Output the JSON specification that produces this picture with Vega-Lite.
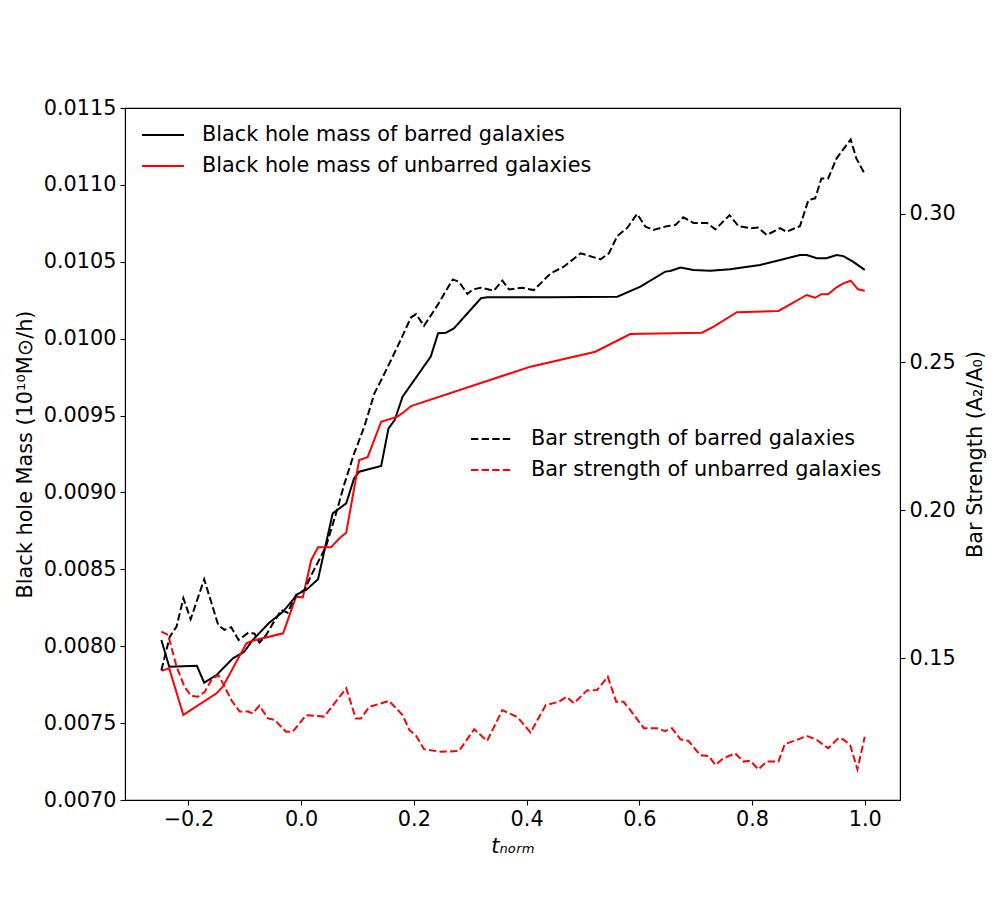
{
  "$schema": "https://vega.github.io/schema/vega-lite/v6.json",
  "width": 775,
  "height": 692,
  "autosize": {"type": "none"},
  "padding": {"left": 125, "top": 108, "right": 100, "bottom": 100},
  "background": "white",
  "config": {
    "font": "DejaVu Sans",
    "view": {"stroke": "black", "strokeWidth": 1.1},
    "axis": {
      "grid": false,
      "domainColor": "black",
      "domainWidth": 1.1,
      "tickColor": "black",
      "tickWidth": 1.1,
      "tickSize": 5,
      "labelColor": "black",
      "labelFontSize": 20.8,
      "labelFont": "DejaVu Sans",
      "labelPadding": 4,
      "titleColor": "black",
      "titleFontSize": 20.8,
      "titleFont": "DejaVu Sans",
      "titleFontWeight": "normal"
    },
    "legend": {
      "labelFontSize": 20.8,
      "labelFont": "DejaVu Sans",
      "labelColor": "black",
      "padding": 0,
      "rowPadding": 9,
      "symbolType": "M-2,0L2,0",
      "symbolSize": 441,
      "symbolStrokeWidth": 2,
      "labelOffset": 27.5,
      "labelLimit": 600
    }
  },
  "datasets": {
    "bh": [
      {"t": -0.248, "mass": 0.008040, "label": "Black hole mass of barred galaxies"},
      {"t": -0.234, "mass": 0.007867, "label": "Black hole mass of barred galaxies"},
      {"t": -0.185, "mass": 0.007873, "label": "Black hole mass of barred galaxies"},
      {"t": -0.172, "mass": 0.007763, "label": "Black hole mass of barred galaxies"},
      {"t": -0.150, "mass": 0.007813, "label": "Black hole mass of barred galaxies"},
      {"t": -0.121, "mass": 0.007921, "label": "Black hole mass of barred galaxies"},
      {"t": -0.101, "mass": 0.007964, "label": "Black hole mass of barred galaxies"},
      {"t": -0.086, "mass": 0.008040, "label": "Black hole mass of barred galaxies"},
      {"t": -0.057, "mass": 0.008151, "label": "Black hole mass of barred galaxies"},
      {"t": -0.032, "mass": 0.008225, "label": "Black hole mass of barred galaxies"},
      {"t": -0.006, "mass": 0.008340, "label": "Black hole mass of barred galaxies"},
      {"t": 0.009, "mass": 0.008366, "label": "Black hole mass of barred galaxies"},
      {"t": 0.030, "mass": 0.008435, "label": "Black hole mass of barred galaxies"},
      {"t": 0.056, "mass": 0.008864, "label": "Black hole mass of barred galaxies"},
      {"t": 0.080, "mass": 0.008929, "label": "Black hole mass of barred galaxies"},
      {"t": 0.094, "mass": 0.009092, "label": "Black hole mass of barred galaxies"},
      {"t": 0.103, "mass": 0.009135, "label": "Black hole mass of barred galaxies"},
      {"t": 0.142, "mass": 0.009172, "label": "Black hole mass of barred galaxies"},
      {"t": 0.155, "mass": 0.009417, "label": "Black hole mass of barred galaxies"},
      {"t": 0.166, "mass": 0.009471, "label": "Black hole mass of barred galaxies"},
      {"t": 0.180, "mass": 0.009623, "label": "Black hole mass of barred galaxies"},
      {"t": 0.230, "mass": 0.009883, "label": "Black hole mass of barred galaxies"},
      {"t": 0.243, "mass": 0.010035, "label": "Black hole mass of barred galaxies"},
      {"t": 0.257, "mass": 0.010039, "label": "Black hole mass of barred galaxies"},
      {"t": 0.271, "mass": 0.010067, "label": "Black hole mass of barred galaxies"},
      {"t": 0.319, "mass": 0.010263, "label": "Black hole mass of barred galaxies"},
      {"t": 0.330, "mass": 0.010269, "label": "Black hole mass of barred galaxies"},
      {"t": 0.443, "mass": 0.010269, "label": "Black hole mass of barred galaxies"},
      {"t": 0.561, "mass": 0.010273, "label": "Black hole mass of barred galaxies"},
      {"t": 0.602, "mass": 0.010338, "label": "Black hole mass of barred galaxies"},
      {"t": 0.646, "mass": 0.010436, "label": "Black hole mass of barred galaxies"},
      {"t": 0.655, "mass": 0.010440, "label": "Black hole mass of barred galaxies"},
      {"t": 0.673, "mass": 0.010462, "label": "Black hole mass of barred galaxies"},
      {"t": 0.696, "mass": 0.010447, "label": "Black hole mass of barred galaxies"},
      {"t": 0.726, "mass": 0.010442, "label": "Black hole mass of barred galaxies"},
      {"t": 0.761, "mass": 0.010451, "label": "Black hole mass of barred galaxies"},
      {"t": 0.814, "mass": 0.010479, "label": "Black hole mass of barred galaxies"},
      {"t": 0.850, "mass": 0.010512, "label": "Black hole mass of barred galaxies"},
      {"t": 0.885, "mass": 0.010544, "label": "Black hole mass of barred galaxies"},
      {"t": 0.897, "mass": 0.010544, "label": "Black hole mass of barred galaxies"},
      {"t": 0.915, "mass": 0.010523, "label": "Black hole mass of barred galaxies"},
      {"t": 0.932, "mass": 0.010523, "label": "Black hole mass of barred galaxies"},
      {"t": 0.950, "mass": 0.010544, "label": "Black hole mass of barred galaxies"},
      {"t": 0.962, "mass": 0.010537, "label": "Black hole mass of barred galaxies"},
      {"t": 0.979, "mass": 0.010501, "label": "Black hole mass of barred galaxies"},
      {"t": 1.000, "mass": 0.010447, "label": "Black hole mass of barred galaxies"},
      {"t": -0.248, "mass": 0.007841, "label": "Black hole mass of unbarred galaxies"},
      {"t": -0.234, "mass": 0.007856, "label": "Black hole mass of unbarred galaxies"},
      {"t": -0.209, "mass": 0.007553, "label": "Black hole mass of unbarred galaxies"},
      {"t": -0.150, "mass": 0.007694, "label": "Black hole mass of unbarred galaxies"},
      {"t": -0.139, "mass": 0.007737, "label": "Black hole mass of unbarred galaxies"},
      {"t": -0.097, "mass": 0.008019, "label": "Black hole mass of unbarred galaxies"},
      {"t": -0.086, "mass": 0.008036, "label": "Black hole mass of unbarred galaxies"},
      {"t": -0.032, "mass": 0.008084, "label": "Black hole mass of unbarred galaxies"},
      {"t": -0.009, "mass": 0.008322, "label": "Black hole mass of unbarred galaxies"},
      {"t": 0.003, "mass": 0.008318, "label": "Black hole mass of unbarred galaxies"},
      {"t": 0.018, "mass": 0.008561, "label": "Black hole mass of unbarred galaxies"},
      {"t": 0.030, "mass": 0.008643, "label": "Black hole mass of unbarred galaxies"},
      {"t": 0.053, "mass": 0.008643, "label": "Black hole mass of unbarred galaxies"},
      {"t": 0.068, "mass": 0.008702, "label": "Black hole mass of unbarred galaxies"},
      {"t": 0.080, "mass": 0.008738, "label": "Black hole mass of unbarred galaxies"},
      {"t": 0.103, "mass": 0.009211, "label": "Black hole mass of unbarred galaxies"},
      {"t": 0.118, "mass": 0.009229, "label": "Black hole mass of unbarred galaxies"},
      {"t": 0.142, "mass": 0.009460, "label": "Black hole mass of unbarred galaxies"},
      {"t": 0.171, "mass": 0.009493, "label": "Black hole mass of unbarred galaxies"},
      {"t": 0.183, "mass": 0.009525, "label": "Black hole mass of unbarred galaxies"},
      {"t": 0.195, "mass": 0.009562, "label": "Black hole mass of unbarred galaxies"},
      {"t": 0.407, "mass": 0.009818, "label": "Black hole mass of unbarred galaxies"},
      {"t": 0.522, "mass": 0.009915, "label": "Black hole mass of unbarred galaxies"},
      {"t": 0.584, "mass": 0.010030, "label": "Black hole mass of unbarred galaxies"},
      {"t": 0.711, "mass": 0.010039, "label": "Black hole mass of unbarred galaxies"},
      {"t": 0.732, "mass": 0.010078, "label": "Black hole mass of unbarred galaxies"},
      {"t": 0.773, "mass": 0.010172, "label": "Black hole mass of unbarred galaxies"},
      {"t": 0.847, "mass": 0.010180, "label": "Black hole mass of unbarred galaxies"},
      {"t": 0.897, "mass": 0.010284, "label": "Black hole mass of unbarred galaxies"},
      {"t": 0.912, "mass": 0.010266, "label": "Black hole mass of unbarred galaxies"},
      {"t": 0.923, "mass": 0.010289, "label": "Black hole mass of unbarred galaxies"},
      {"t": 0.935, "mass": 0.010289, "label": "Black hole mass of unbarred galaxies"},
      {"t": 0.950, "mass": 0.010334, "label": "Black hole mass of unbarred galaxies"},
      {"t": 0.962, "mass": 0.010360, "label": "Black hole mass of unbarred galaxies"},
      {"t": 0.975, "mass": 0.010377, "label": "Black hole mass of unbarred galaxies"},
      {"t": 0.988, "mass": 0.010321, "label": "Black hole mass of unbarred galaxies"},
      {"t": 1.000, "mass": 0.010312, "label": "Black hole mass of unbarred galaxies"}
    ],
    "bar": [
      {"t": -0.248, "a2": 0.1459, "label": "Bar strength of barred galaxies"},
      {"t": -0.233, "a2": 0.1572, "label": "Bar strength of barred galaxies"},
      {"t": -0.221, "a2": 0.1606, "label": "Bar strength of barred galaxies"},
      {"t": -0.209, "a2": 0.1702, "label": "Bar strength of barred galaxies"},
      {"t": -0.196, "a2": 0.1631, "label": "Bar strength of barred galaxies"},
      {"t": -0.172, "a2": 0.1766, "label": "Bar strength of barred galaxies"},
      {"t": -0.147, "a2": 0.1611, "label": "Bar strength of barred galaxies"},
      {"t": -0.136, "a2": 0.1595, "label": "Bar strength of barred galaxies"},
      {"t": -0.124, "a2": 0.1604, "label": "Bar strength of barred galaxies"},
      {"t": -0.111, "a2": 0.1561, "label": "Bar strength of barred galaxies"},
      {"t": -0.094, "a2": 0.1585, "label": "Bar strength of barred galaxies"},
      {"t": -0.083, "a2": 0.1583, "label": "Bar strength of barred galaxies"},
      {"t": -0.074, "a2": 0.1552, "label": "Bar strength of barred galaxies"},
      {"t": -0.062, "a2": 0.1578, "label": "Bar strength of barred galaxies"},
      {"t": -0.050, "a2": 0.1617, "label": "Bar strength of barred galaxies"},
      {"t": -0.035, "a2": 0.1662, "label": "Bar strength of barred galaxies"},
      {"t": -0.024, "a2": 0.1653, "label": "Bar strength of barred galaxies"},
      {"t": -0.009, "a2": 0.1713, "label": "Bar strength of barred galaxies"},
      {"t": 0.006, "a2": 0.1730, "label": "Bar strength of barred galaxies"},
      {"t": 0.018, "a2": 0.1780, "label": "Bar strength of barred galaxies"},
      {"t": 0.044, "a2": 0.1876, "label": "Bar strength of barred galaxies"},
      {"t": 0.062, "a2": 0.1989, "label": "Bar strength of barred galaxies"},
      {"t": 0.077, "a2": 0.2090, "label": "Bar strength of barred galaxies"},
      {"t": 0.094, "a2": 0.2191, "label": "Bar strength of barred galaxies"},
      {"t": 0.112, "a2": 0.2281, "label": "Bar strength of barred galaxies"},
      {"t": 0.130, "a2": 0.2394, "label": "Bar strength of barred galaxies"},
      {"t": 0.145, "a2": 0.2450, "label": "Bar strength of barred galaxies"},
      {"t": 0.171, "a2": 0.2552, "label": "Bar strength of barred galaxies"},
      {"t": 0.195, "a2": 0.2651, "label": "Bar strength of barred galaxies"},
      {"t": 0.204, "a2": 0.2662, "label": "Bar strength of barred galaxies"},
      {"t": 0.218, "a2": 0.2622, "label": "Bar strength of barred galaxies"},
      {"t": 0.242, "a2": 0.2692, "label": "Bar strength of barred galaxies"},
      {"t": 0.269, "a2": 0.2779, "label": "Bar strength of barred galaxies"},
      {"t": 0.280, "a2": 0.2771, "label": "Bar strength of barred galaxies"},
      {"t": 0.295, "a2": 0.2730, "label": "Bar strength of barred galaxies"},
      {"t": 0.304, "a2": 0.2745, "label": "Bar strength of barred galaxies"},
      {"t": 0.319, "a2": 0.2751, "label": "Bar strength of barred galaxies"},
      {"t": 0.342, "a2": 0.2741, "label": "Bar strength of barred galaxies"},
      {"t": 0.357, "a2": 0.2775, "label": "Bar strength of barred galaxies"},
      {"t": 0.369, "a2": 0.2745, "label": "Bar strength of barred galaxies"},
      {"t": 0.392, "a2": 0.2751, "label": "Bar strength of barred galaxies"},
      {"t": 0.413, "a2": 0.2743, "label": "Bar strength of barred galaxies"},
      {"t": 0.443, "a2": 0.2800, "label": "Bar strength of barred galaxies"},
      {"t": 0.466, "a2": 0.2822, "label": "Bar strength of barred galaxies"},
      {"t": 0.496, "a2": 0.2867, "label": "Bar strength of barred galaxies"},
      {"t": 0.531, "a2": 0.2847, "label": "Bar strength of barred galaxies"},
      {"t": 0.546, "a2": 0.2867, "label": "Bar strength of barred galaxies"},
      {"t": 0.561, "a2": 0.2926, "label": "Bar strength of barred galaxies"},
      {"t": 0.578, "a2": 0.2952, "label": "Bar strength of barred galaxies"},
      {"t": 0.596, "a2": 0.3000, "label": "Bar strength of barred galaxies"},
      {"t": 0.611, "a2": 0.2957, "label": "Bar strength of barred galaxies"},
      {"t": 0.625, "a2": 0.2946, "label": "Bar strength of barred galaxies"},
      {"t": 0.649, "a2": 0.2959, "label": "Bar strength of barred galaxies"},
      {"t": 0.664, "a2": 0.2963, "label": "Bar strength of barred galaxies"},
      {"t": 0.678, "a2": 0.2989, "label": "Bar strength of barred galaxies"},
      {"t": 0.696, "a2": 0.2970, "label": "Bar strength of barred galaxies"},
      {"t": 0.720, "a2": 0.2970, "label": "Bar strength of barred galaxies"},
      {"t": 0.735, "a2": 0.2948, "label": "Bar strength of barred galaxies"},
      {"t": 0.760, "a2": 0.2996, "label": "Bar strength of barred galaxies"},
      {"t": 0.776, "a2": 0.2959, "label": "Bar strength of barred galaxies"},
      {"t": 0.797, "a2": 0.2952, "label": "Bar strength of barred galaxies"},
      {"t": 0.811, "a2": 0.2954, "label": "Bar strength of barred galaxies"},
      {"t": 0.826, "a2": 0.2929, "label": "Bar strength of barred galaxies"},
      {"t": 0.850, "a2": 0.2952, "label": "Bar strength of barred galaxies"},
      {"t": 0.861, "a2": 0.2940, "label": "Bar strength of barred galaxies"},
      {"t": 0.885, "a2": 0.2959, "label": "Bar strength of barred galaxies"},
      {"t": 0.900, "a2": 0.3047, "label": "Bar strength of barred galaxies"},
      {"t": 0.912, "a2": 0.3053, "label": "Bar strength of barred galaxies"},
      {"t": 0.923, "a2": 0.3120, "label": "Bar strength of barred galaxies"},
      {"t": 0.935, "a2": 0.3120, "label": "Bar strength of barred galaxies"},
      {"t": 0.950, "a2": 0.3188, "label": "Bar strength of barred galaxies"},
      {"t": 0.975, "a2": 0.3252, "label": "Bar strength of barred galaxies"},
      {"t": 0.985, "a2": 0.3188, "label": "Bar strength of barred galaxies"},
      {"t": 1.000, "a2": 0.3135, "label": "Bar strength of barred galaxies"},
      {"t": -0.248, "a2": 0.1589, "label": "Bar strength of unbarred galaxies"},
      {"t": -0.236, "a2": 0.1578, "label": "Bar strength of unbarred galaxies"},
      {"t": -0.221, "a2": 0.1471, "label": "Bar strength of unbarred galaxies"},
      {"t": -0.207, "a2": 0.1403, "label": "Bar strength of unbarred galaxies"},
      {"t": -0.195, "a2": 0.1372, "label": "Bar strength of unbarred galaxies"},
      {"t": -0.183, "a2": 0.1369, "label": "Bar strength of unbarred galaxies"},
      {"t": -0.171, "a2": 0.1386, "label": "Bar strength of unbarred galaxies"},
      {"t": -0.159, "a2": 0.1426, "label": "Bar strength of unbarred galaxies"},
      {"t": -0.147, "a2": 0.1443, "label": "Bar strength of unbarred galaxies"},
      {"t": -0.139, "a2": 0.1415, "label": "Bar strength of unbarred galaxies"},
      {"t": -0.124, "a2": 0.1358, "label": "Bar strength of unbarred galaxies"},
      {"t": -0.109, "a2": 0.1319, "label": "Bar strength of unbarred galaxies"},
      {"t": -0.094, "a2": 0.1319, "label": "Bar strength of unbarred galaxies"},
      {"t": -0.086, "a2": 0.1313, "label": "Bar strength of unbarred galaxies"},
      {"t": -0.074, "a2": 0.1339, "label": "Bar strength of unbarred galaxies"},
      {"t": -0.059, "a2": 0.1296, "label": "Bar strength of unbarred galaxies"},
      {"t": -0.047, "a2": 0.1291, "label": "Bar strength of unbarred galaxies"},
      {"t": -0.027, "a2": 0.1251, "label": "Bar strength of unbarred galaxies"},
      {"t": -0.015, "a2": 0.1251, "label": "Bar strength of unbarred galaxies"},
      {"t": 0.009, "a2": 0.1307, "label": "Bar strength of unbarred galaxies"},
      {"t": 0.041, "a2": 0.1302, "label": "Bar strength of unbarred galaxies"},
      {"t": 0.080, "a2": 0.1398, "label": "Bar strength of unbarred galaxies"},
      {"t": 0.097, "a2": 0.1296, "label": "Bar strength of unbarred galaxies"},
      {"t": 0.106, "a2": 0.1296, "label": "Bar strength of unbarred galaxies"},
      {"t": 0.121, "a2": 0.1335, "label": "Bar strength of unbarred galaxies"},
      {"t": 0.156, "a2": 0.1355, "label": "Bar strength of unbarred galaxies"},
      {"t": 0.180, "a2": 0.1307, "label": "Bar strength of unbarred galaxies"},
      {"t": 0.192, "a2": 0.1257, "label": "Bar strength of unbarred galaxies"},
      {"t": 0.204, "a2": 0.1237, "label": "Bar strength of unbarred galaxies"},
      {"t": 0.218, "a2": 0.1192, "label": "Bar strength of unbarred galaxies"},
      {"t": 0.248, "a2": 0.1183, "label": "Bar strength of unbarred galaxies"},
      {"t": 0.280, "a2": 0.1186, "label": "Bar strength of unbarred galaxies"},
      {"t": 0.307, "a2": 0.1259, "label": "Bar strength of unbarred galaxies"},
      {"t": 0.330, "a2": 0.1220, "label": "Bar strength of unbarred galaxies"},
      {"t": 0.357, "a2": 0.1324, "label": "Bar strength of unbarred galaxies"},
      {"t": 0.384, "a2": 0.1300, "label": "Bar strength of unbarred galaxies"},
      {"t": 0.407, "a2": 0.1248, "label": "Bar strength of unbarred galaxies"},
      {"t": 0.434, "a2": 0.1341, "label": "Bar strength of unbarred galaxies"},
      {"t": 0.457, "a2": 0.1352, "label": "Bar strength of unbarred galaxies"},
      {"t": 0.471, "a2": 0.1369, "label": "Bar strength of unbarred galaxies"},
      {"t": 0.484, "a2": 0.1347, "label": "Bar strength of unbarred galaxies"},
      {"t": 0.507, "a2": 0.1390, "label": "Bar strength of unbarred galaxies"},
      {"t": 0.525, "a2": 0.1392, "label": "Bar strength of unbarred galaxies"},
      {"t": 0.544, "a2": 0.1437, "label": "Bar strength of unbarred galaxies"},
      {"t": 0.559, "a2": 0.1352, "label": "Bar strength of unbarred galaxies"},
      {"t": 0.572, "a2": 0.1352, "label": "Bar strength of unbarred galaxies"},
      {"t": 0.584, "a2": 0.1324, "label": "Bar strength of unbarred galaxies"},
      {"t": 0.608, "a2": 0.1263, "label": "Bar strength of unbarred galaxies"},
      {"t": 0.631, "a2": 0.1263, "label": "Bar strength of unbarred galaxies"},
      {"t": 0.646, "a2": 0.1253, "label": "Bar strength of unbarred galaxies"},
      {"t": 0.658, "a2": 0.1263, "label": "Bar strength of unbarred galaxies"},
      {"t": 0.673, "a2": 0.1225, "label": "Bar strength of unbarred galaxies"},
      {"t": 0.687, "a2": 0.1220, "label": "Bar strength of unbarred galaxies"},
      {"t": 0.708, "a2": 0.1172, "label": "Bar strength of unbarred galaxies"},
      {"t": 0.723, "a2": 0.1169, "label": "Bar strength of unbarred galaxies"},
      {"t": 0.735, "a2": 0.1139, "label": "Bar strength of unbarred galaxies"},
      {"t": 0.749, "a2": 0.1161, "label": "Bar strength of unbarred galaxies"},
      {"t": 0.770, "a2": 0.1178, "label": "Bar strength of unbarred galaxies"},
      {"t": 0.785, "a2": 0.1150, "label": "Bar strength of unbarred galaxies"},
      {"t": 0.797, "a2": 0.1153, "label": "Bar strength of unbarred galaxies"},
      {"t": 0.811, "a2": 0.1124, "label": "Bar strength of unbarred galaxies"},
      {"t": 0.826, "a2": 0.1150, "label": "Bar strength of unbarred galaxies"},
      {"t": 0.847, "a2": 0.1150, "label": "Bar strength of unbarred galaxies"},
      {"t": 0.858, "a2": 0.1209, "label": "Bar strength of unbarred galaxies"},
      {"t": 0.879, "a2": 0.1223, "label": "Bar strength of unbarred galaxies"},
      {"t": 0.897, "a2": 0.1237, "label": "Bar strength of unbarred galaxies"},
      {"t": 0.915, "a2": 0.1223, "label": "Bar strength of unbarred galaxies"},
      {"t": 0.935, "a2": 0.1195, "label": "Bar strength of unbarred galaxies"},
      {"t": 0.953, "a2": 0.1229, "label": "Bar strength of unbarred galaxies"},
      {"t": 0.962, "a2": 0.1225, "label": "Bar strength of unbarred galaxies"},
      {"t": 0.974, "a2": 0.1206, "label": "Bar strength of unbarred galaxies"},
      {"t": 0.987, "a2": 0.1124, "label": "Bar strength of unbarred galaxies"},
      {"t": 1.000, "a2": 0.1234, "label": "Bar strength of unbarred galaxies"}
    ]
  },
  "layer": [
    {
      "data": {"name": "bh"},
      "mark": {"type": "line", "strokeWidth": 2},
      "encoding": {
        "x": {
          "field": "t", "type": "quantitative",
          "scale": {"domain": [-0.3125, 1.0625], "nice": false, "zero": false},
          "axis": {"values": [-0.2, 0.0, 0.2, 0.4, 0.6, 0.8, 1.0], "format": ".1f", "title": "tₙₒᵣₘ", "titleFontStyle": "italic", "titlePadding": 8}
        },
        "y": {
          "field": "mass", "type": "quantitative",
          "scale": {"domain": [0.0070, 0.0115], "nice": false, "zero": false},
          "axis": {"orient": "left", "values": [0.0070, 0.0075, 0.0080, 0.0085, 0.0090, 0.0095, 0.0100, 0.0105, 0.0110, 0.0115], "format": ".4f", "title": "Black hole Mass (10¹⁰M⊙/h)", "titlePadding": 8}
        },
        "color": {
          "field": "label", "type": "nominal",
          "scale": {"domain": ["Black hole mass of barred galaxies", "Black hole mass of unbarred galaxies"], "range": ["black", "red"]},
          "legend": {"title": null, "orient": "none", "legendX": 26.5, "legendY": 15.5}
        }
      }
    },
    {
      "data": {"name": "bar"},
      "mark": {"type": "line", "strokeWidth": 2, "strokeDash": [7.4, 3.2]},
      "encoding": {
        "x": {"field": "t", "type": "quantitative"},
        "y": {
          "field": "a2", "type": "quantitative",
          "scale": {"domain": [0.10203, 0.33581], "nice": false, "zero": false},
          "axis": {"orient": "right", "values": [0.15, 0.20, 0.25, 0.30], "format": ".2f", "title": "Bar Strength (A₂/A₀)", "titleAngle": -90, "titleBaseline": "top", "titlePadding": 10}
        },
        "color": {
          "field": "label", "type": "nominal",
          "scale": {"domain": ["Bar strength of barred galaxies", "Bar strength of unbarred galaxies"], "range": ["black", "red"]},
          "legend": {"title": null, "orient": "none", "legendX": 355.5, "legendY": 319.5, "symbolDash": [7.4, 3.2]}
        }
      }
    }
  ],
  "resolve": {"scale": {"y": "independent", "color": "independent"}}
}
